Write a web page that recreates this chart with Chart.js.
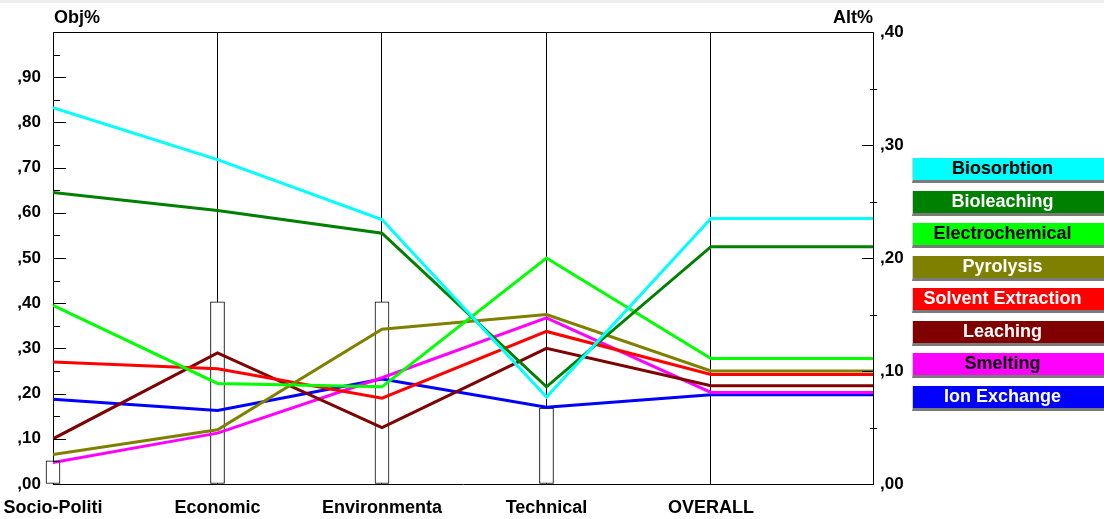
<!DOCTYPE html>
<html>
<head>
<meta charset="utf-8">
<script src="https://cdn.jsdelivr.net/npm/chart.js@4.4.1/dist/chart.umd.min.js"></script>
<style>
  html, body { margin: 0; padding: 0; background: #fff; }
  #wrap { position: relative; width: 1104px; height: 519px; overflow: hidden; }
  #topband { position: absolute; left: 0; top: 0; width: 1104px; height: 3px; background: #eeeeee; }
  .axisTitle { position: absolute; top: 7px; font: bold 18px "Liberation Sans", Arial, sans-serif; color: #000; }
  #legend { position: absolute; left: 912px; top: 158px; width: 200px; }
  .item { position: absolute; left: 0; width: 200px; height: 25px; line-height: 25px; padding-right: 20px; box-sizing: border-box;
          text-align: center; font: bold 18px "Liberation Sans", Arial, sans-serif; border-bottom: 3px solid #7a7a7a; border-left: 1px solid #d0d0d0; }
</style>
</head>
<body>
<div id="wrap">
  <canvas id="sens_chart" width="1104" height="519"></canvas>
  <div id="topband"></div>
  <div class="axisTitle" style="left:54px;">Obj%</div>
  <div class="axisTitle" style="right:231px;">Alt%</div>
  <div id="legend"></div>
</div>
<script>
// criteria along the x axis
const categories = ["Socio-Politi", "Economic", "Environmenta", "Technical", "OVERALL"];
// criterion weights (Obj%, left axis) - drawn as the little bars
const weights = [0.051, 0.403, 0.403, 0.168];

// alternative priorities (Alt%, right axis) per criterion, last one is OVERALL
const altNames = ["Biosorbtion", "Bioleaching", "Electrochemical", "Pyrolysis",
                  "Solvent Extraction", "Leaching", "Smelting", "Ion Exchange"];
const biosorbtion     = [0.333, 0.287, 0.234, 0.077, 0.235];
const bioleaching     = [0.258, 0.242, 0.222, 0.086, 0.210];
const electrochemical = [0.158, 0.089, 0.086, 0.200, 0.111];
const pyrolysis       = [0.026, 0.048, 0.137, 0.150, 0.100];
const solventExtr     = [0.108, 0.102, 0.076, 0.135, 0.097];
const leaching        = [0.040, 0.116, 0.050, 0.120, 0.087];
const smelting        = [0.019, 0.045, 0.094, 0.147, 0.081];
const ionExchange     = [0.075, 0.065, 0.093, 0.068, 0.079];

const objTicks = [0, 0.1, 0.2, 0.3, 0.4, 0.5, 0.6, 0.7, 0.8, 0.9];
const altTicks = [0, 0.1, 0.2, 0.3, 0.4];

const altColors = ["#00ffff", "#008000", "#00ff00", "#808000", "#ff0000", "#800000", "#ff00ff", "#0000ff"];
const altText   = ["#000", "#fff", "#000", "#fff", "#fff", "#fff", "#000", "#fff"];

const X_MAX = 4.985;
const fmt = v => "," + v.toFixed(2).split(".")[1];

const allSeries = [biosorbtion, bioleaching, electrochemical, pyrolysis, solventExtr, leaching, smelting, ionExchange];

const lineSets = allSeries.map((vals, i) => {
    const pts = vals.map((v, k) => ({ x: k, y: v }));
    pts.push({ x: X_MAX, y: vals[vals.length - 1] }); // overall carried to the right axis
    return {
        type: "line",
        label: altNames[i],
        data: pts,
        yAxisID: "yAlt",
        borderColor: altColors[i],
        backgroundColor: altColors[i],
        borderWidth: 3,
        pointRadius: 0,
        tension: 0,
        order: 1
    };
});

const barSet = {
    type: "bar",
    label: "weights",
    data: weights.map((w, k) => ({ x: k, y: w })),
    yAxisID: "yObj",
    backgroundColor: "#ffffff",
    borderColor: "#000000",
    borderWidth: 1,
    borderSkipped: false,
    barThickness: 14,
    clip: false,
    order: 10
};

// inward tick marks + top frame line, like the original program
const frameTicks = {
    id: "frameTicks",
    afterDatasetsDraw(chart) {
        const { ctx, chartArea, scales } = chart;
        ctx.save();
        ctx.strokeStyle = "#000";
        ctx.lineWidth = 1;
        ctx.beginPath();
        ctx.moveTo(chartArea.left, Math.round(chartArea.top) + 0.5);
        ctx.lineTo(chartArea.right, Math.round(chartArea.top) + 0.5);
        const yo = scales.yObj, ya = scales.yAlt;
        for (let v = 0.05; v < 1; v += 0.05) {
            const y = Math.round(yo.getPixelForValue(v)) + 0.5;
            const major = Math.round(v * 100) % 10 === 0;
            ctx.moveTo(chartArea.left, y);
            ctx.lineTo(chartArea.left + (major ? 13 : 7), y);
        }
        for (let v = 0.05; v < 0.4; v += 0.05) {
            const y = Math.round(ya.getPixelForValue(v)) + 0.5;
            const major = Math.round(v * 100) % 10 === 0;
            if (major) {
                ctx.moveTo(chartArea.right - 11, y);
                ctx.lineTo(chartArea.right, y);
            } else {
                ctx.moveTo(chartArea.right - 3, y);
                ctx.lineTo(chartArea.right + 4, y);
            }
        }
        ctx.stroke();
        ctx.restore();
    }
};

const axisFont = { family: "'Liberation Sans', Arial, sans-serif", size: 17, weight: "bold" };

new Chart(document.getElementById("sens_chart").getContext("2d"), {
    data: { datasets: [...lineSets, barSet] },
    options: {
        responsive: false,
        animation: false,
        devicePixelRatio: 1,
        layout: { padding: { top: 32, left: 0, right: 0, bottom: 0 } },
        plugins: { legend: { display: false }, tooltip: { enabled: false } },
        scales: {
            x: {
                type: "linear",
                min: 0, max: X_MAX,
                offset: false,
                afterBuildTicks: s => { s.ticks = categories.map((c, k) => ({ value: k })); },
                afterFit: s => { s.height = 35; s.paddingLeft = 0; s.paddingRight = 0; },
                ticks: {
                    callback: v => categories[v],
                    color: "#000",
                    font: { family: "'Liberation Sans', Arial, sans-serif", size: 18, weight: "bold" },
                    padding: 13,
                    maxRotation: 0,
                    autoSkip: false
                },
                grid: { color: "#000", lineWidth: 1, drawTicks: false, offset: false },
                border: { color: "#000", width: 1 }
            },
            yObj: {
                position: "left",
                min: 0, max: 1,
                afterBuildTicks: s => { s.ticks = objTicks.map(v => ({ value: v })); },
                afterFit: s => { s.width = 53; },
                ticks: { callback: v => fmt(v), color: "#000", font: axisFont, padding: 12 },
                grid: { drawOnChartArea: false, drawTicks: false },
                border: { color: "#000", width: 1 }
            },
            yAlt: {
                position: "right",
                min: 0, max: 0.4,
                afterBuildTicks: s => { s.ticks = altTicks.map(v => ({ value: v })); },
                afterFit: s => { s.width = 231; },
                ticks: { callback: v => fmt(v), color: "#000", font: axisFont, padding: 7 },
                grid: { drawOnChartArea: false, drawTicks: false },
                border: { color: "#000", width: 1 }
            }
        }
    },
    plugins: [frameTicks]
});

// legend boxes on the right
const legend = document.getElementById("legend");
altNames.forEach((name, i) => {
    const d = document.createElement("div");
    d.className = "item";
    d.style.top = (i * 32.5) + "px";
    d.style.background = altColors[i];
    d.style.color = altText[i];
    d.textContent = name;
    legend.appendChild(d);
});
</script>
</body>
</html>
